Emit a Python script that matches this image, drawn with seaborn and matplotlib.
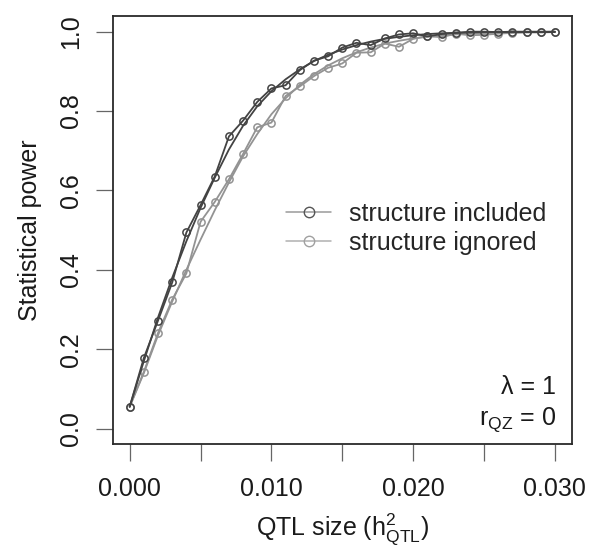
import numpy as np
import pandas as pd
import matplotlib
matplotlib.use("Agg")
import matplotlib.pyplot as plt
from matplotlib.lines import Line2D
import seaborn as sns

# ---- data -------------------------------------------------------------
qtl_size = [round(0.001 * i, 3) for i in range(31)]

power_included = [0.055, 0.178, 0.272, 0.368, 0.494, 0.563, 0.635, 0.736, 0.776, 0.823,
                  0.857, 0.865, 0.903, 0.927, 0.938, 0.960, 0.972, 0.966, 0.983, 0.993,
                  0.996, 0.988, 0.994, 0.997, 1.000, 1.000, 0.999, 0.999, 0.999, 0.999, 0.999]

power_ignored = [0.055, 0.143, 0.241, 0.325, 0.391, 0.521, 0.571, 0.628, 0.692, 0.759,
                 0.771, 0.838, 0.862, 0.888, 0.909, 0.920, 0.947, 0.948, 0.970, 0.962,
                 0.982, 0.989, 0.986, 0.995, 0.991, 0.992, 0.995, 0.997, 0.998, 0.998, 0.999]

# smoothed (fitted) curves
smooth_included = [0.055, 0.170, 0.280, 0.380, 0.472, 0.556, 0.632, 0.703, 0.763, 0.812,
                   0.850, 0.880, 0.905, 0.926, 0.942, 0.955, 0.966, 0.975, 0.982, 0.987,
                   0.991, 0.994, 0.996, 0.997, 0.998, 0.999, 0.999, 1.000, 1.000, 1.000, 1.000]

smooth_ignored = [0.055, 0.140, 0.235, 0.320, 0.400, 0.476, 0.550, 0.620, 0.686, 0.742,
                  0.792, 0.832, 0.866, 0.893, 0.915, 0.933, 0.948, 0.960, 0.970, 0.977,
                  0.983, 0.987, 0.990, 0.993, 0.995, 0.996, 0.997, 0.998, 0.999, 0.999, 1.000]

series_labels = ["structure included", "structure ignored"]
x_ticks = [0.000, 0.005, 0.010, 0.015, 0.020, 0.025, 0.030]
x_ticklabels = ["0.000", "", "0.010", "", "0.020", "", "0.030"]
y_ticks = [0.0, 0.2, 0.4, 0.6, 0.8, 1.0]
y_ticklabels = ["0.0", "0.2", "0.4", "0.6", "0.8", "1.0"]

# ---- style ------------------------------------------------------------
sns.set_style("white")
plt.rcParams["font.family"] = ["Liberation Sans", "DejaVu Sans"]
plt.rcParams["mathtext.fontset"] = "custom"
plt.rcParams["mathtext.rm"] = "Liberation Sans"
plt.rcParams["mathtext.it"] = "Liberation Sans:italic"

DARK = "#434343"
LIGHT = "#939393"
TXT = "#1a1a1a"

fig = plt.figure(figsize=(5.89, 5.49), dpi=100)
ax = fig.add_axes([0.1913, 0.1905, 0.971 - 0.1913, 0.9712 - 0.1905])

df = pd.DataFrame({"x": qtl_size,
                   "inc": power_included, "ign": power_ignored,
                   "s_inc": smooth_included, "s_ign": smooth_ignored})

# smooth curves
sns.lineplot(data=df, x="x", y="s_ign", ax=ax, color=LIGHT, lw=1.3, zorder=2)
sns.lineplot(data=df, x="x", y="s_inc", ax=ax, color=DARK, lw=1.3, zorder=3)
# observed points joined by lines
sns.lineplot(data=df, x="x", y="ign", ax=ax, color=LIGHT, lw=1.3, marker="o",
             ms=5.2, mfc="none", mec=LIGHT, mew=1.1, zorder=2)
sns.lineplot(data=df, x="x", y="inc", ax=ax, color=DARK, lw=1.3, marker="o",
             ms=5.2, mfc="none", mec=DARK, mew=1.1, zorder=3)

ax.set_xlim(-0.0012, 0.0312)
ax.set_ylim(-0.04, 1.04)
ax.set_xticks(x_ticks)
ax.set_xticklabels(x_ticklabels, fontsize=18, color=TXT)
ax.set_yticks(y_ticks)
ax.set_yticklabels(y_ticklabels, fontsize=18, color=TXT, rotation=90, va="center")
ax.tick_params(axis="both", direction="out", length=12.5, width=0.9, color="#666666",
               bottom=True, left=True)
ax.tick_params(axis="x", pad=11)
ax.tick_params(axis="y", pad=9)
for s in ax.spines.values():
    s.set_color("#2a2a2a")
    s.set_linewidth(1.3)

ax.set_xlabel(r"QTL size ($\mathrm{h}^2_{\mathrm{QTL}}$)", fontsize=18, color=TXT, labelpad=7)
ax.set_ylabel("Statistical power", fontsize=18, color=TXT, labelpad=12)

handles = [Line2D([0], [0], color="#9a9a9a", lw=1.1, marker="o", ms=7.5, mfc="none",
                  mec="#555555", mew=1.0),
           Line2D([0], [0], color="#b0b0b0", lw=1.1, marker="o", ms=7.5, mfc="none",
                  mec="#a0a0a0", mew=1.0)]
ax.legend(handles, series_labels, loc="center left", bbox_to_anchor=(0.356, 0.504),
          frameon=False, fontsize=18, handlelength=1.8, handletextpad=0.7,
          labelspacing=0.18, borderaxespad=0)

ax.text(0.965, 0.135, "λ = 1", transform=ax.transAxes, ha="right", va="center",
        fontsize=18, color=TXT)
ax.text(0.965, 0.058, r"$\mathrm{r_{QZ}}$ = 0", transform=ax.transAxes, ha="right",
        va="center", fontsize=18, color=TXT)

fig.savefig("out.png", dpi=100)
